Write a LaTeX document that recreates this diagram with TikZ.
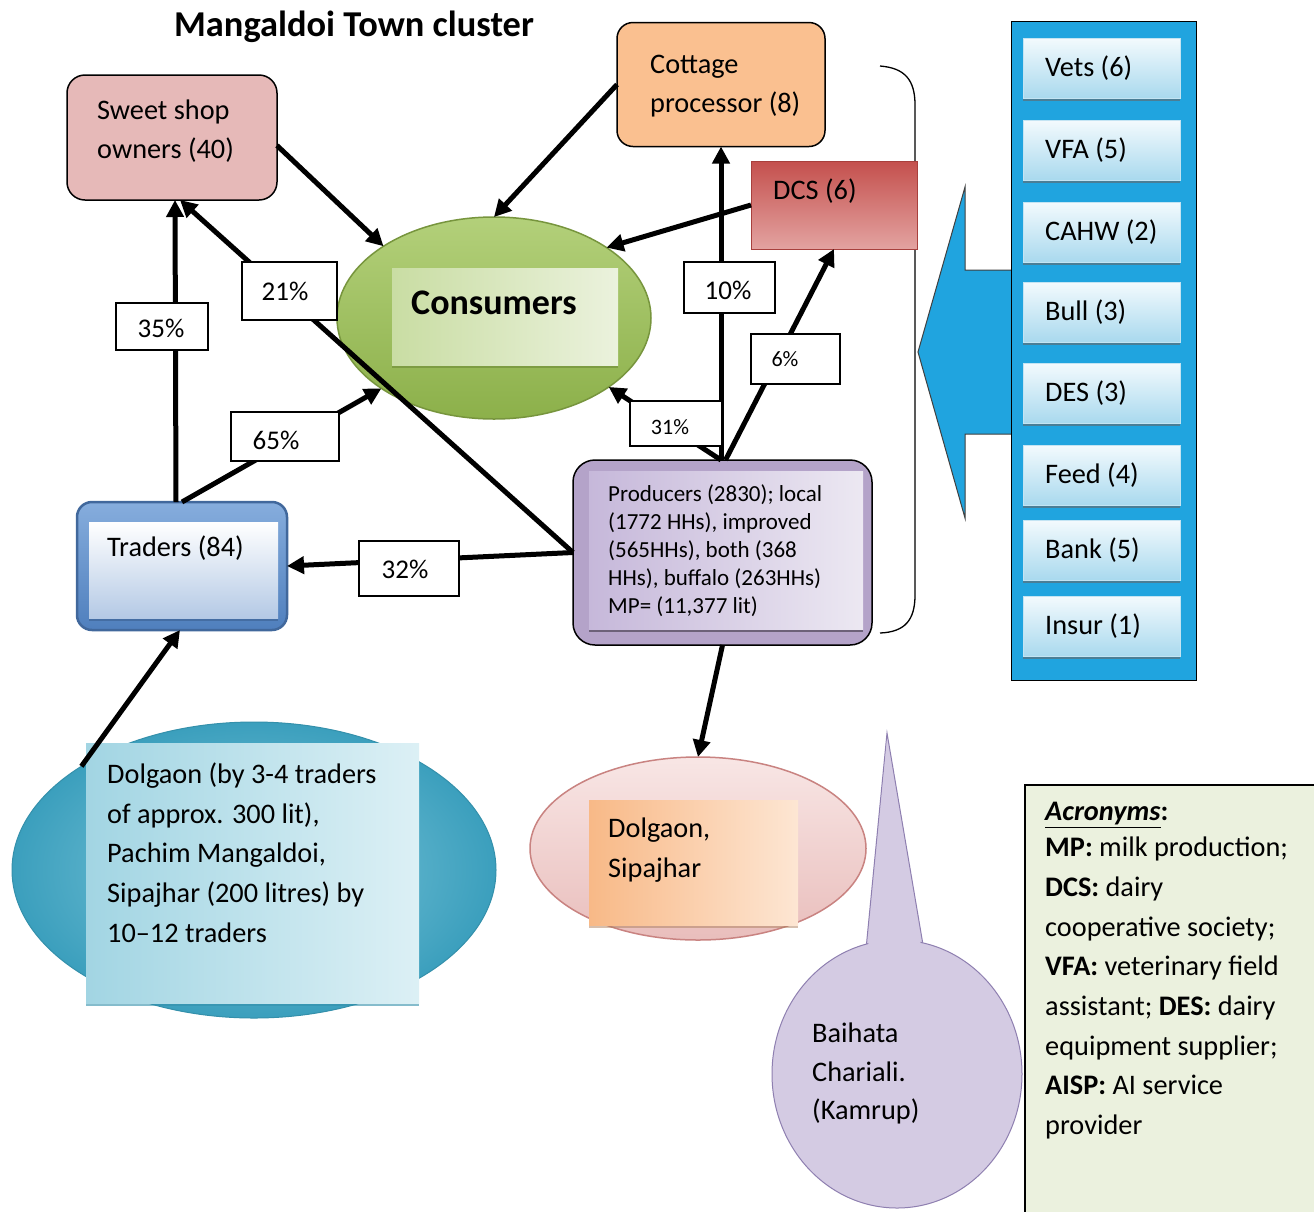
\documentclass[tikz,border=0pt]{standalone}
\usepackage{fontspec}
\setmainfont{Carlito}
\usetikzlibrary{arrows.meta,shapes.geometric,shadows}

\definecolor{sweetfill}{HTML}{E6B9B8}
\definecolor{cottfill}{HTML}{FAC090}
\definecolor{dcstop}{HTML}{C4504D}
\definecolor{dcsbot}{HTML}{E3A3A1}
\definecolor{dcsline}{HTML}{A8403D}
\definecolor{constop}{HTML}{B3D07A}
\definecolor{consbot}{HTML}{8CB04A}
\definecolor{consline}{HTML}{77953D}
\definecolor{consinA}{HTML}{C9DDA3}
\definecolor{consinB}{HTML}{EBF2DD}
\definecolor{tradtop}{HTML}{86ADDD}
\definecolor{tradbot}{HTML}{4F7FBD}
\definecolor{tradline}{HTML}{41689C}
\definecolor{tradinbot}{HTML}{B4C9E5}
\definecolor{prodfill}{HTML}{B4A3C9}
\definecolor{prodinA}{HTML}{C6B8DA}
\definecolor{prodinB}{HTML}{ECE8F2}
\definecolor{panelblue}{HTML}{20A4DF}
\definecolor{svctop}{HTML}{F3FAFD}
\definecolor{svcbot}{HTML}{A9D9EE}
\definecolor{lellin}{HTML}{86CBDD}
\definecolor{lellout}{HTML}{3B9FBD}
\definecolor{lelline}{HTML}{3490AB}
\definecolor{lboxA}{HTML}{A2D5E3}
\definecolor{lboxB}{HTML}{DCF0F5}
\definecolor{dsipline}{HTML}{C98381}
\definecolor{dsiptop}{HTML}{F8E6E5}
\definecolor{dsipbot}{HTML}{E9BEBC}
\definecolor{dboxA}{HTML}{F8B987}
\definecolor{dboxB}{HTML}{FDE6D3}
\definecolor{callA}{HTML}{CABFDC}
\definecolor{callfill}{HTML}{D4CBE3}
\definecolor{callline}{HTML}{8E7FB0}
\definecolor{acrfill}{HTML}{EBF1DE}

\tikzset{
  nosep/.style={inner sep=0pt, outer sep=0pt},
  arr/.style={line width=5pt, -{Triangle[length=17pt,width=17pt]}},
  txt/.style={inner sep=0pt, anchor=west, align=left, font=\fontsize{28.3}{39.5}\selectfont},
  pctbox/.style={nosep, draw=black, line width=1.3pt, fill=white},
  pcttxt/.style={inner sep=0pt, font=\fontsize{27}{30}\selectfont},
  pctsmall/.style={inner sep=0pt, font=\fontsize{22}{26}\selectfont},
  svcitem/.style={nosep, minimum width=157pt, minimum height=60pt,
    top color=svctop, bottom color=svcbot, draw=svcbot!70!white, line width=0.8pt,
    drop shadow={shadow xshift=0pt, shadow yshift=-3pt, fill=black!60, opacity=0.6}},
}

\begin{document}
\begin{tikzpicture}[x=1pt,y=-1pt]
\useasboundingbox (0,0) rectangle (1314,1211);
\fill[white] (0,0) rectangle (1314,1211);

% title
\node[inner sep=0pt, font=\bfseries\fontsize{36.4}{40}\selectfont] (title) at (354,27) {Mangaldoi Town cluster};

% bracket grouping the chain actors
\draw[line width=1.3pt] (880,66) .. controls (905,68) and (915,80) .. (915,105)
  -- (915,595) .. controls (915,620) and (905,632) .. (880,633);

% support services panel and its block arrow
\draw[fill=panelblue, draw=black!75, line width=1pt]
  (918,352) -- (965,187) -- (965,270) -- (1012,270) -- (1012,434) -- (965,434) -- (965,518) -- cycle;
\node[nosep, draw=black, line width=1.8pt, fill=panelblue, minimum width=185pt, minimum height=659pt] (panel) at (1104,351) {};
\foreach \yy/\tt [count=\i] in {68/{Vets (6)}, 150/{VFA (5)}, 232/{CAHW (2)}, 312/{Bull (3)},
    393/{DES (3)}, 475/{Feed (4)}, 550/{Bank (5)}, 626/{Insur (1)}} {
  \node[svcitem] (svc\i) at (1101.5,\yy) {};
  \node[txt] (svct\i) at (1045,\yy) {\tt};
}

% sweet shop owners
\node[nosep, draw=black, line width=1.5pt, fill=sweetfill, rounded corners=18pt,
  minimum width=210pt, minimum height=125pt] (sweet) at (172,137.5) {};
\node[txt, font=\fontsize{28.3}{38.5}\selectfont] (sweettxt) at (97,131) {Sweet shop\\owners (40)};

% cottage processor
\node[nosep, draw=black, line width=1.5pt, fill=cottfill, rounded corners=16pt,
  minimum width=208pt, minimum height=124pt] (cottage) at (721,84.5) {};
\node[txt] (cotttxt) at (650,86) {Cottage\\processor (8)};

% dairy cooperative society
\node[nosep, draw=dcsline, line width=1pt, top color=dcstop, bottom color=dcsbot,
  minimum width=166pt, minimum height=88pt] (dcs) at (834,205) {};
\node[txt] (dcstxt) at (773,191) {DCS (6)};

% consumers
\node[ellipse, nosep, draw=consline, line width=1.5pt, top color=constop, bottom color=consbot,
  minimum width=314pt, minimum height=202pt] (cons) at (494,318) {};
\node[nosep, left color=consinA, right color=consinB, minimum width=226pt, minimum height=97pt,
  drop shadow={shadow xshift=0pt, shadow yshift=-3pt, fill=consline, opacity=0.8}] (consbox) at (505,316.5) {};
\node[inner sep=0pt, font=\bfseries\fontsize{36}{40}\selectfont] (constxt) at (494,303) {Consumers};

% traders
\node[nosep, draw=tradline, line width=2.5pt, top color=tradtop, bottom color=tradbot, rounded corners=15pt,
  minimum width=210pt, minimum height=128pt] (trad) at (182,566) {};
\node[nosep, top color=white, bottom color=tradinbot, minimum width=189pt, minimum height=96pt,
  drop shadow={shadow xshift=0pt, shadow yshift=-3pt, fill=tradline, opacity=0.8}] (tradbox) at (183.5,570) {};
\node[txt] (tradtxt) at (107,548) {Traders (84)};

% producers
\node[nosep, draw=black, line width=1.5pt, fill=prodfill, rounded corners=22pt,
  minimum width=299pt, minimum height=185pt] (prod) at (722.5,552.5) {};
\node[nosep, left color=prodinA, right color=prodinB, minimum width=274pt, minimum height=158pt,
  drop shadow={shadow xshift=0pt, shadow yshift=-3pt, fill=black!50!prodfill, opacity=0.8}] (prodbox) at (726,550) {};
\node[txt, font=\fontsize{23}{28}\selectfont] (prodtxt) at (608,551)
  {Producers (2830); local\\(1772 HHs), improved\\(565HHs), both (368\\HHs), buffalo (263HHs)\\MP= (11,377 lit)};

% source areas of the traders
\node[ellipse, nosep, draw=lelline, line width=1pt, shading=radial, inner color=lellin, outer color=lellout,
  minimum width=484pt, minimum height=296pt] (lell) at (254,870) {};
\node[nosep, left color=lboxA, right color=lboxB, minimum width=333pt, minimum height=260pt,
  drop shadow={shadow xshift=0pt, shadow yshift=-3pt, fill=lelline, opacity=0.6}] (lbox) at (252.5,873) {};
\node[txt, font=\fontsize{28.3}{39.75}\selectfont] (lelltxt) at (107,852.5)
  {Dolgaon (by 3-4 traders\\of approx. 300 lit),\\Pachim Mangaldoi,\\Sipajhar (200 litres) by\\10--12 traders};

% outside markets of the producers
\node[ellipse, nosep, draw=dsipline, line width=1.5pt, top color=dsiptop, bottom color=dsipbot,
  minimum width=336pt, minimum height=183pt] (dsip) at (698,848.5) {};
\node[nosep, left color=dboxA, right color=dboxB, minimum width=209pt, minimum height=125pt,
  drop shadow={shadow xshift=0pt, shadow yshift=-3pt, fill=dboxA!70!black, opacity=0.5}] (dbox) at (693.5,862.5) {};
\node[txt] (dsiptxt) at (608,850) {Dolgaon,\\Sipajhar};

% callout
\fill[callfill, draw=callline, line width=1pt] (887,733) -- (863,980) -- (929,980) -- cycle;
\node[ellipse, nosep, fill=callfill, draw=callline, line width=1pt,
  minimum width=250pt, minimum height=268pt] (bai) at (897,1074) {};
\fill[callfill] (887,740) -- (864.5,985) -- (927.5,985) -- cycle;
\node[txt, font=\fontsize{28.3}{38.5}\selectfont] (baitxt) at (812,1073.5) {Baihata\\Chariali.\\(Kamrup)};

% acronyms
\node[nosep, draw=black, line width=1.8pt, fill=acrfill, anchor=north west,
  minimum width=300pt, minimum height=440pt] (acr) at (1025,785) {};
\node[txt] (acrhead) at (1045,815) {\textbf{\textit{\underline{Acronyms}}:}};
\node[txt, font=\fontsize{28.3}{39.7}\selectfont] (acrtxt) at (1045,988)
  {\textbf{MP:} milk production;\\\textbf{DCS:} dairy\\cooperative society;\\\textbf{VFA:} veterinary field\\assistant; \textbf{DES:} dairy\\equipment supplier;\\\textbf{AISP:} AI service\\provider};

% flows
\draw[arr] ([yshift=-8pt]sweet.east) -- (cons.147);
\draw[arr] (cottage.west) -- (cons.north);
\draw[arr] (dcs.west) -- (cons.32);
\draw[arr] ([xshift=-6pt]trad.north) -- ([xshift=3pt]sweet.south);
\draw[arr] (trad.north) -- (cons.212);
\draw[arr] (prod.west) -- ([xshift=8pt]sweet.south);
\draw[arr] (prod.west) -- (trad.east);
\draw[arr] (prod.north -| cottage.south) -- (cottage.south);
\draw[arr] ([xshift=3pt]prod.north) -- (dcs.south);
\draw[arr] (prod.north -| cottage.south) -- (cons.-31);
\draw[arr] (prod.south) -- (dsip.north);
\draw[arr] (lell.149) -- ([xshift=-2pt]trad.south);

% flow shares
\node[pctbox, minimum width=92pt, minimum height=47pt] (p35) at (162,326.5) {};
\node[pcttxt] (p35t) at (161,328) {35\%};
\node[pctbox, minimum width=95pt, minimum height=58pt] (p21) at (289.5,291) {};
\node[pcttxt] (p21t) at (285,291) {21\%};
\node[pctbox, minimum width=108pt, minimum height=49pt] (p65) at (285,436.5) {};
\node[pcttxt] (p65t) at (276,440) {65\%};
\node[pctbox, minimum width=91pt, minimum height=51pt] (p10) at (729.5,287.5) {};
\node[pcttxt] (p10t) at (728,290) {10\%};
\node[pctbox, minimum width=89pt, minimum height=50pt] (p6) at (795.5,359) {};
\node[pctsmall] (p6t) at (785,359) {6\%};
\node[pctbox, minimum width=92pt, minimum height=45pt] (p31) at (676,423.5) {};
\node[pctsmall] (p31t) at (670,427) {31\%};
\node[pctbox, minimum width=100pt, minimum height=55pt] (p32) at (409,568.5) {};
\node[pcttxt] (p32t) at (405,569) {32\%};
\end{tikzpicture}
\end{document}
